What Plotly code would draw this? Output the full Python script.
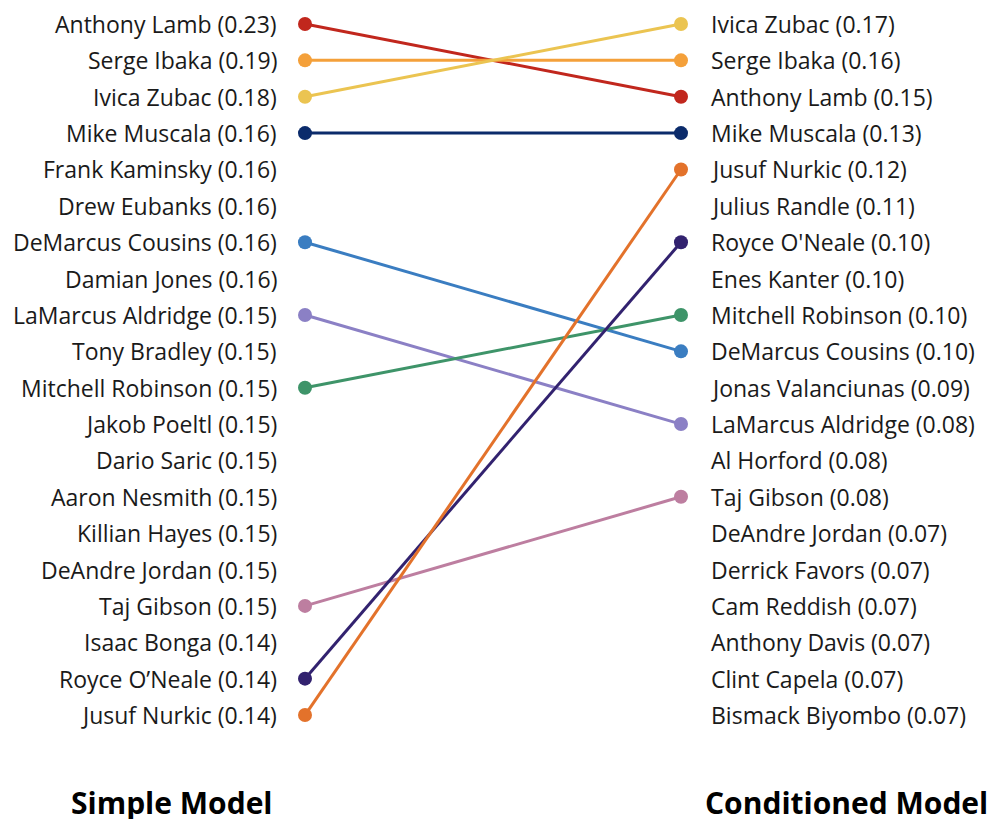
import plotly.graph_objects as go

left_names = ["Anthony Lamb", "Serge Ibaka", "Ivica Zubac", "Mike Muscala", "Frank Kaminsky",
              "Drew Eubanks", "DeMarcus Cousins", "Damian Jones", "LaMarcus Aldridge", "Tony Bradley",
              "Mitchell Robinson", "Jakob Poeltl", "Dario Saric", "Aaron Nesmith", "Killian Hayes",
              "DeAndre Jordan", "Taj Gibson", "Isaac Bonga", "Royce O\u2019Neale", "Jusuf Nurkic"]
left_values = [0.23, 0.19, 0.18, 0.16, 0.16, 0.16, 0.16, 0.16, 0.15, 0.15,
               0.15, 0.15, 0.15, 0.15, 0.15, 0.15, 0.15, 0.14, 0.14, 0.14]

right_names = ["Ivica Zubac", "Serge Ibaka", "Anthony Lamb", "Mike Muscala", "Jusuf Nurkic",
               "Julius Randle", "Royce O'Neale", "Enes Kanter", "Mitchell Robinson", "DeMarcus Cousins",
               "Jonas Valanciunas", "LaMarcus Aldridge", "Al Horford", "Taj Gibson", "DeAndre Jordan",
               "Derrick Favors", "Cam Reddish", "Anthony Davis", "Clint Capela", "Bismack Biyombo"]
right_values = [0.17, 0.16, 0.15, 0.13, 0.12, 0.11, 0.10, 0.10, 0.10, 0.10,
                0.09, 0.08, 0.08, 0.08, 0.07, 0.07, 0.07, 0.07, 0.07, 0.07]

linked_players = ["Anthony Lamb", "Serge Ibaka", "Ivica Zubac", "Mike Muscala", "DeMarcus Cousins",
                  "LaMarcus Aldridge", "Mitchell Robinson", "Taj Gibson", "Royce O'Neale", "Jusuf Nurkic"]
link_colors = ["#c1271d", "#f4a03a", "#ebc451", "#0b2b6b", "#3a7dc1",
               "#8b80c5", "#3e9469", "#bd7ea0", "#32226f", "#e3722b"]

titles = ["Simple Model", "Conditioned Model"]

FONT = "Open Sans, Noto Sans, sans-serif"

def norm(s):
    return s.replace("\u2019", "'")

left_rank = {norm(n): i + 1 for i, n in enumerate(left_names)}
right_rank = {norm(n): i + 1 for i, n in enumerate(right_names)}

fig = go.Figure()
for name, col in zip(linked_players, link_colors):
    fig.add_trace(go.Scatter(
        x=[0, 1], y=[left_rank[name], right_rank[name]],
        mode="lines+markers",
        line=dict(color=col, width=3),
        marker=dict(color=col, size=14),
        hoverinfo="skip", showlegend=False,
    ))

annotations = []
for i, (n, v) in enumerate(zip(left_names, left_values)):
    annotations.append(dict(x=0, y=i + 1, xref="x", yref="y", text=f"{n} ({v:.2f})",
                            showarrow=False, xanchor="right", yanchor="middle", xshift=-26,
                            font=dict(family=FONT, size=23, color="#1a1a1a")))
for i, (n, v) in enumerate(zip(right_names, right_values)):
    annotations.append(dict(x=1, y=i + 1, xref="x", yref="y", text=f"{n} ({v:.2f})",
                            showarrow=False, xanchor="left", yanchor="middle", xshift=28,
                            font=dict(family=FONT, size=23, color="#1a1a1a")))

annotations.append(dict(x=172 / 990, y=(819 - 802) / 819, xref="paper", yref="paper", text=f"<b>{titles[0]}</b>",
                        showarrow=False, xanchor="center", yanchor="middle",
                        font=dict(family=FONT, size=30, color="#000000")))
annotations.append(dict(x=846 / 990, y=(819 - 802) / 819, xref="paper", yref="paper", text=f"<b>{titles[1]}</b>",
                        showarrow=False, xanchor="center", yanchor="middle",
                        font=dict(family=FONT, size=30, color="#000000")))

px_per_unit = 376.0
x0 = -305.0 / px_per_unit
x1 = x0 + 990.0 / px_per_unit
step = 36.37
r_top = 1 - 24.0 / step
r_bot = 1 + (819.0 - 24.0) / step

fig.update_layout(
    width=990, height=819,
    margin=dict(l=0, r=0, t=0, b=0),
    paper_bgcolor="white", plot_bgcolor="white",
    xaxis=dict(range=[x0, x1], visible=False, fixedrange=True),
    yaxis=dict(range=[r_bot, r_top], visible=False, fixedrange=True),
    annotations=annotations,
    showlegend=False,
)

fig.write_html("out.html", config={"displayModeBar": False},
               post_script="document.body.style.margin='0';document.body.style.overflow='hidden';")
